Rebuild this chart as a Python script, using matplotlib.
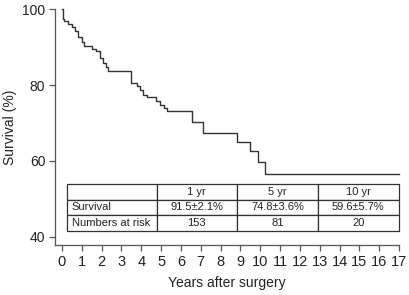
import numpy as np
import matplotlib.pyplot as plt

plt.rcParams['font.family'] = 'Liberation Sans'

# Kaplan-Meier step points (years, survival %)
km_time = [0, 0.05, 0.12, 0.29, 0.49, 0.66, 0.81, 1.0, 1.13, 1.5, 1.7, 1.92, 2.09,
           2.2, 2.32, 3.48, 3.77, 3.94, 4.11, 4.28, 4.73, 4.95, 5.17, 5.3, 6.57,
           7.12, 8.84, 9.49, 9.9, 10.25, 17.0]
km_surv = [100, 97.5, 96.8, 96.1, 95.2, 94.2, 92.8, 91.5, 90.2, 89.6, 88.9, 87.2, 85.8,
           84.8, 83.6, 80.5, 79.8, 78.8, 77.5, 76.8, 75.7, 74.8, 73.9, 73.1, 70.3,
           67.3, 65.0, 62.5, 59.8, 56.6, 56.6]

# Summary table
col_labels = ['', '1 yr', '5 yr', '10 yr']
row_survival = ['Survival', '91.5\u00b12.1%', '74.8\u00b13.6%', '59.6\u00b15.7%']
row_risk = ['Numbers at risk', '153', '81', '20']

fig = plt.figure(figsize=(4.09, 2.95), dpi=100)
ax = fig.add_axes([0.1345, 0.1695, 0.841, 0.799])

ax.step(km_time, km_surv, where='post', color='#333333', lw=1.0, clip_on=False)

ax.set_xlim(-0.35, 17.0)
ax.set_ylim(37.8, 100)
ax.set_xticks(np.arange(0, 18))
ax.set_yticks([40, 60, 80, 100])
for s in ['top', 'right']:
    ax.spines[s].set_visible(False)
for s in ['left', 'bottom']:
    ax.spines[s].set_color('#555555')
    ax.spines[s].set_linewidth(0.9)
ax.tick_params(axis='both', direction='out', length=4, width=0.9, color='#555555',
               labelcolor='#222222', pad=3)
ax.tick_params(axis='x', labelsize=10.5)
ax.tick_params(axis='y', labelsize=10)
ax.set_xlabel('Years after surgery', fontsize=10, color='#222222', labelpad=5)
ax.set_ylabel('Survival (%)', fontsize=10, color='#222222', labelpad=4)

tbl = ax.table(cellText=[col_labels, row_survival, row_risk],
               colWidths=[0.26, 0.235, 0.235, 0.235],
               cellLoc='center', bbox=[0.0355, 0.061, 0.9635, 0.197])
tbl.auto_set_font_size(False)
tbl.set_fontsize(8)
for (r, c), cell in tbl.get_celld().items():
    cell.set_edgecolor('#333333')
    cell.set_linewidth(0.9)
    cell.get_text().set_color('#222222')
    if c == 0:
        cell.get_text().set_ha('left')
        cell.PAD = 0.05

fig.savefig('out.png', dpi=100)
